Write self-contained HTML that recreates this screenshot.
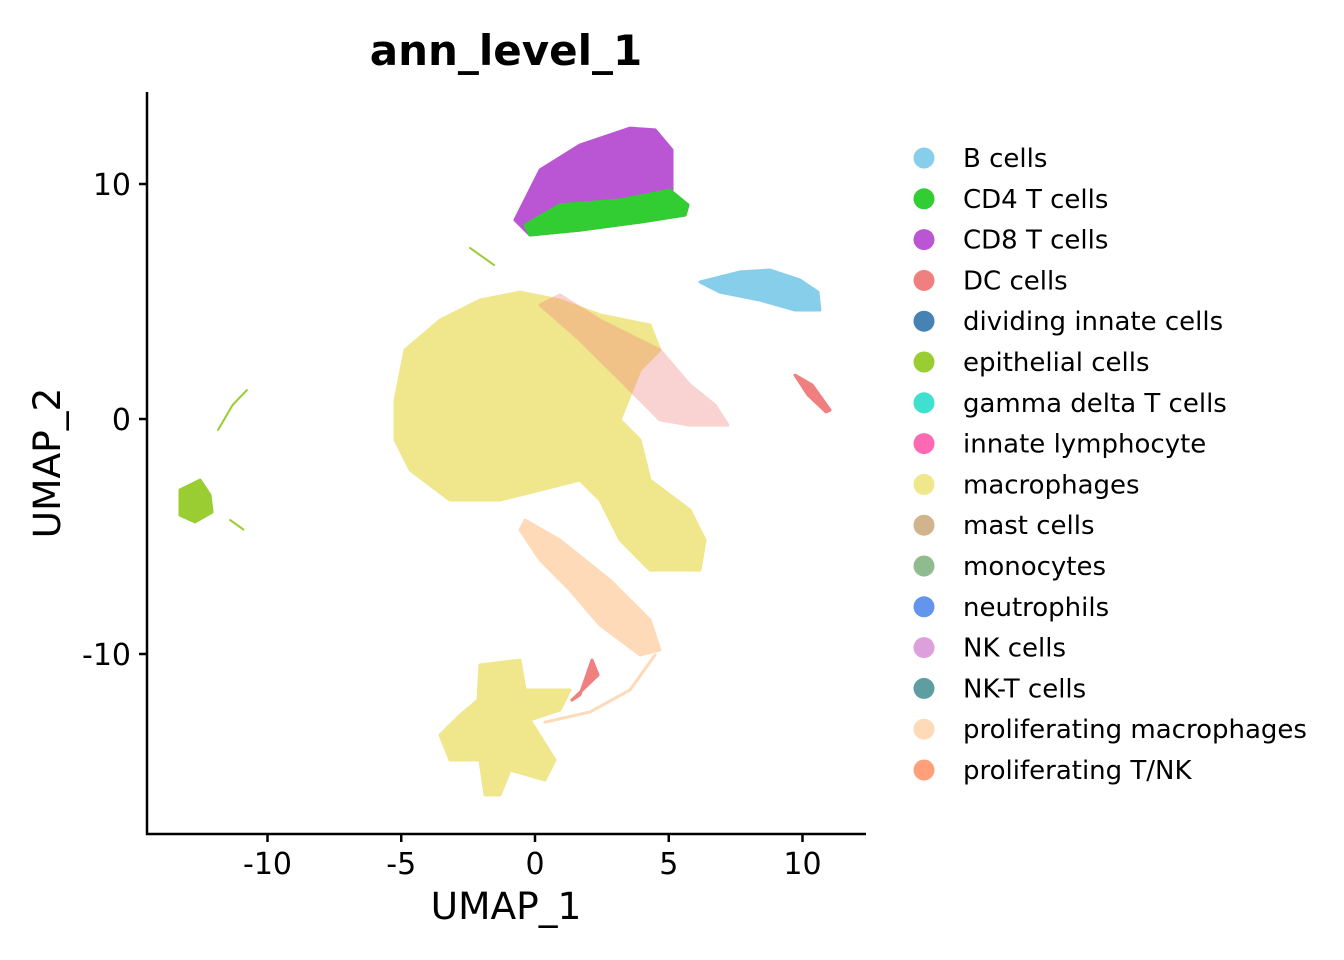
<!DOCTYPE html>
<html><head><meta charset="utf-8"><style>
html,body{margin:0;padding:0;background:#fff;}
svg{display:block;font-family:"DejaVu Sans","Liberation Sans",sans-serif;}
</style></head><body>
<svg id="chart" width="1344" height="960" viewBox="0 0 1344 960" xmlns="http://www.w3.org/2000/svg">
<text x="506" y="65" font-size="42" font-weight="bold" text-anchor="middle">ann_level_1</text>
<g id="clusters"></g>
<g id="axes"></g>
<text x="506" y="919" font-size="37.5" text-anchor="middle">UMAP_1</text>
<text x="0" y="0" font-size="37.5" text-anchor="middle" transform="translate(60,463) rotate(-90)">UMAP_2</text>
<g id="legend"></g>
</svg>
<script>
const xTicks=[-10,-5,0,5,10];
const yTicks=[10,0,-10];
const legendLabels=["B cells","CD4 T cells","CD8 T cells","DC cells","dividing innate cells","epithelial cells","gamma delta T cells","innate lymphocyte","macrophages","mast cells","monocytes","neutrophils","NK cells","NK-T cells","proliferating macrophages","proliferating T/NK"];
const legendColors=["#87CEEB","#32CD32","#BA55D3","#F08080","#4682B4","#9ACD32","#40E0D0","#FF69B4","#F0E68C","#D2B48C","#8FBC8F","#6495ED","#DDA0DD","#5F9EA0","#FFDAB9","#FFA07A"];
const macroMain=[[-5.23,0.81],[-4.86,2.94],[-3.55,4.21],[-2.06,5.06],[-0.56,5.40],[0.93,5.06],[2.43,4.43],[4.30,4.0],[4.67,2.94],[3.93,2.09],[3.18,-0.04],[3.93,-0.89],[4.30,-2.6],[5.79,-3.87],[6.36,-5.15],[6.17,-6.43],[4.30,-6.43],[3.18,-5.15],[2.43,-3.45],[1.68,-2.6],[0.19,-3.02],[-1.31,-3.45],[-3.18,-3.45],[-4.67,-2.17],[-5.23,-0.89]];
const macroBottom=[[-2.06,-10.47],[-0.56,-10.26],[-0.37,-11.53],[1.31,-11.53],[0.93,-12.38],[-0.19,-12.81],[0.75,-14.51],[0.37,-15.36],[-0.93,-14.94],[-1.31,-16.0],[-1.87,-16.0],[-2.06,-14.51],[-3.18,-14.51],[-3.55,-13.45],[-2.80,-12.6],[-2.13,-11.96]];
const cd8=[[-0.75,8.47],[0.19,10.60],[1.68,11.66],[3.55,12.38],[4.49,12.30],[5.12,11.45],[5.12,9.53],[5.72,9.11],[5.61,8.68],[3.93,8.38],[1.68,8.04],[-0.19,7.83]];
const cd4=[[-0.37,8.26],[0.93,9.11],[3.18,9.32],[5.05,9.74],[5.72,9.11],[5.61,8.68],[3.93,8.38],[1.68,8.04],[-0.19,7.83]];
const bcells=[[6.17,5.83],[7.66,6.26],[8.79,6.34],[9.91,5.91],[10.58,5.40],[10.65,4.64],[9.72,4.64],[8.41,5.06],[6.92,5.40]];
const dcBand=[[0.93,5.28],[2.43,4.21],[4.67,2.94],[5.79,1.45],[6.73,0.60],[7.21,-0.26],[5.79,-0.26],[4.67,-0.04],[3.18,1.66],[1.68,3.36],[0.19,4.85]];
const dcRight=[[9.72,1.87],[10.36,1.45],[11.03,0.38],[10.88,0.30],[10.21,1.02]];
const dcBottom=[[1.68,-11.74],[2.13,-10.26],[2.36,-10.89],[1.38,-11.96]];
const prolifMacro=[[-0.37,-4.30],[0.93,-5.15],[2.80,-6.85],[4.30,-8.55],[4.67,-9.83],[3.93,-10.04],[2.43,-8.77],[1.31,-7.28],[0.19,-6.0],[-0.56,-4.72]];
const prolifTail=[[4.49,-10.04],[3.55,-11.53],[2.06,-12.47],[0.37,-12.9]];
const epiBlob=[[-13.27,-3.02],[-12.52,-2.60],[-12.15,-3.23],[-12.07,-3.96],[-12.71,-4.38],[-13.27,-4.09]];
const epiArc=[[-11.85,-0.47],[-11.3,0.6],[-10.77,1.23]];
const epiTrail=[[-11.4,-4.3],[-10.9,-4.7]];
const epiTop=[[-2.43,7.28],[-1.53,6.55]];
const NS="http://www.w3.org/2000/svg";
const sx=v=>535+v*26.75, sy=v=>419-v*23.5;
const pts=a=>a.map(p=>sx(p[0]).toFixed(1)+","+sy(p[1]).toFixed(1)).join(" ");
const cg=document.getElementById("clusters");
function poly(a,color,name,op){const e=document.createElementNS(NS,"polygon");e.setAttribute("points",pts(a));e.setAttribute("fill",color);e.setAttribute("stroke",color);e.setAttribute("stroke-width","3");e.setAttribute("stroke-linejoin","round");if(op)e.setAttribute("opacity",op);


cg.appendChild(e);}
function line(a,color,name,w){const e=document.createElementNS(NS,"polyline");e.setAttribute("points",pts(a));e.setAttribute("fill","none");e.setAttribute("stroke",color);e.setAttribute("stroke-width",w);e.setAttribute("stroke-linecap","round");


cg.appendChild(e);}
poly(macroMain,"#F0E68C","macrophages-main");
poly(macroBottom,"#F0E68C","macrophages-bottom");
poly(dcBand,"#F08080","dc-band",0.35);
poly(cd8,"#BA55D3","cd8-cluster");
poly(cd4,"#32CD32","cd4-cluster");
poly(bcells,"#87CEEB","b-cells-cluster");
poly(dcRight,"#F08080","dc-right");
poly(dcBottom,"#F08080","dc-bottom");
poly(prolifMacro,"#FFDAB9","prolif-macrophages");
line(prolifTail,"#FFDAB9","prolif-tail",3);
poly(epiBlob,"#9ACD32","epithelial-blob");
line(epiArc,"#9ACD32","epithelial-arc",2);
line(epiTrail,"#9ACD32","epithelial-trail",2);
line(epiTop,"#9ACD32","epithelial-top",2);
const ag=document.getElementById("axes");
function el(tag,attrs,name,text){const e=document.createElementNS(NS,tag);for(const k in attrs)e.setAttribute(k,attrs[k]);if(text!==undefined)e.textContent=text;


return e;}
ag.appendChild(el("line",{x1:147,y1:92,x2:147,y2:835,stroke:"#000","stroke-width":2.5},"y-axis-line"));
ag.appendChild(el("line",{x1:146,y1:834,x2:866,y2:834,stroke:"#000","stroke-width":2.5},"x-axis-line"));
xTicks.forEach(t=>{ag.appendChild(el("line",{x1:sx(t),y1:834,x2:sx(t),y2:842,stroke:"#000","stroke-width":2.5},"x-tick"));
ag.appendChild(el("text",{x:sx(t),y:874,"font-size":30,"text-anchor":"middle"},"x-tick-label",String(t)));});
yTicks.forEach(t=>{ag.appendChild(el("line",{x1:139,y1:sy(t),x2:147,y2:sy(t),stroke:"#000","stroke-width":2.5},"y-tick"));
ag.appendChild(el("text",{x:131,y:sy(t)+11,"font-size":30,"text-anchor":"end"},"y-tick-label",String(t)));});
const lg=document.getElementById("legend");
legendLabels.forEach((l,i)=>{const y=158+i*40.8;
lg.appendChild(el("circle",{cx:924,cy:y,r:10.5,fill:legendColors[i]},"legend-dot"));
lg.appendChild(el("text",{x:963,y:y+9,"font-size":26},"legend-entry",l));});
</script>
</body></html>
